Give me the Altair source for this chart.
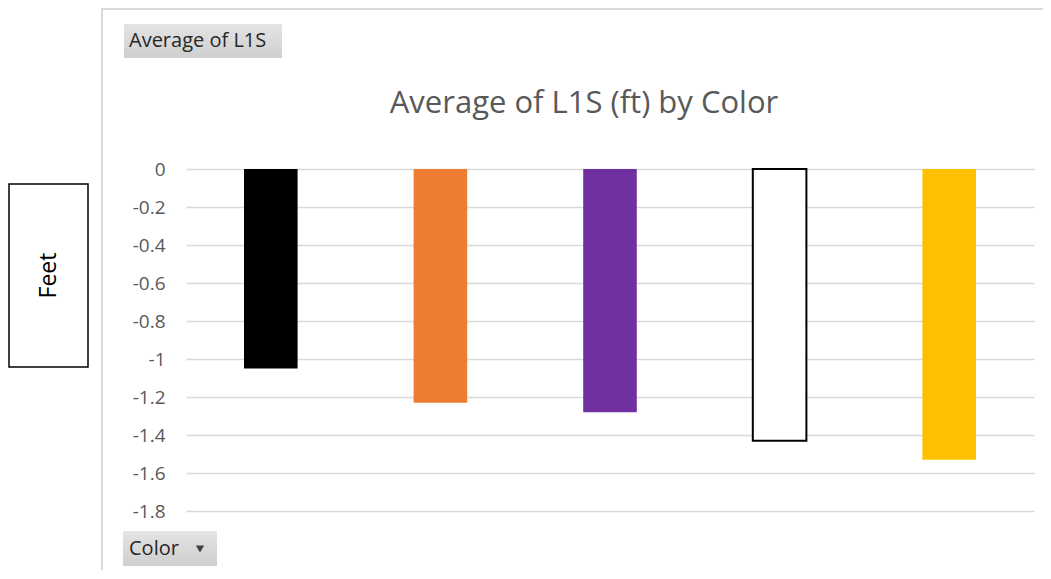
import altair as alt
import pandas as pd

# ---- data ----
categories = ["Black", "Orange", "Purple", "White", "Yellow"]
values = [-1.05, -1.23, -1.28, -1.43, -1.53]
fill_colors = ["#000000", "#ED7D31", "#7030A0", "#FFFFFF", "#FFC000"]
tick_values = [0, -0.2, -0.4, -0.6, -0.8, -1.0, -1.2, -1.4, -1.6, -1.8]

title_text = "Average of L1S (ft) by Color"
field_button_text = "Average of L1S"
axis_button_text = "Color"
y_title_text = "Feet"

FONT = "Open Sans"
W, H = 848, 342

df = pd.DataFrame({"Color": categories, "Value": values})
one = pd.DataFrame({"a": [0]})

bars = alt.Chart(df).mark_bar(strokeJoin="miter").encode(
    x=alt.X("Color:N", sort=categories,
            scale=alt.Scale(paddingInner=0.684, paddingOuter=0.342),
            axis=None),
    y=alt.Y("Value:Q",
            scale=alt.Scale(domain=[-1.8, 0], nice=False, zero=False),
            axis=alt.Axis(values=tick_values, title=None, domain=False, ticks=False,
                          labelExpr="datum.value == 0 ? '0' : '-' + format(abs(datum.value), '~g')",
                          labelFont=FONT, labelFontSize=19, labelColor="#595959",
                          labelPadding=21, grid=True, gridColor="#D9D9D9",
                          gridWidth=1.3)),
    color=alt.Color("Color:N", scale=alt.Scale(domain=categories, range=fill_colors), legend=None),
    stroke=alt.condition("datum.Color == 'White'", alt.value("#000000"), alt.value(None)),
    strokeWidth=alt.condition("datum.Color == 'White'", alt.value(2), alt.value(0)),
)

# chart-area border (left and top)
border_left = alt.Chart(one).mark_rule(color="#D9D9D9", strokeWidth=2).encode(
    x=alt.value(-84), y=alt.value(-161), y2=alt.value(H + 60))
border_top = alt.Chart(one).mark_rule(color="#D9D9D9", strokeWidth=2).encode(
    x=alt.value(-84), x2=alt.value(W + 20), y=alt.value(-160))

title = alt.Chart(one).mark_text(font=FONT, fontSize=31, color="#595959",
                                 align="center", baseline="middle").encode(
    x=alt.value(398), y=alt.value(-65), text=alt.value(title_text))

grad = alt.Gradient(gradient="linear", x1=0, y1=0, x2=0, y2=1,
                    stops=[alt.GradientStop(color="#E4E4E4", offset=0),
                           alt.GradientStop(color="#CFCFCF", offset=1)])

btn1 = alt.Chart(one).mark_rect(color=grad).encode(
    x=alt.value(-62), x2=alt.value(96), y=alt.value(-145), y2=alt.value(-111))
btn1_txt = alt.Chart(one).mark_text(font=FONT, fontSize=20, color="#262626",
                                    align="left", baseline="middle").encode(
    x=alt.value(-57), y=alt.value(-128), text=alt.value(field_button_text))

btn2 = alt.Chart(one).mark_rect(color=grad).encode(
    x=alt.value(-63), x2=alt.value(31), y=alt.value(362), y2=alt.value(397))
btn2_txt = alt.Chart(one).mark_text(font=FONT, fontSize=20, color="#262626",
                                    align="left", baseline="middle").encode(
    x=alt.value(-57), y=alt.value(380), text=alt.value(axis_button_text))
btn2_arrow = alt.Chart(one).mark_point(shape="triangle-down", filled=True,
                                       color="#404040", size=70, opacity=1).encode(
    x=alt.value(14), y=alt.value(380))

feet_box = alt.Chart(one).mark_rect(fill="#FFFFFF", stroke="#000000", strokeWidth=1.5).encode(
    x=alt.value(-177), x2=alt.value(-98), y=alt.value(15), y2=alt.value(198))
feet_txt = alt.Chart(one).mark_text(font=FONT, fontSize=23, color="#000000", angle=270,
                                    align="center", baseline="middle").encode(
    x=alt.value(-137.5), y=alt.value(106.5), text=alt.value(y_title_text))

chart = alt.layer(
    border_left, border_top, bars, title, btn1, btn1_txt, btn2, btn2_txt, btn2_arrow,
    feet_box, feet_txt
).properties(
    width=W, height=H,
    background="#FFFFFF",
    autosize=alt.AutoSizeParams(type="none"),
    padding={"left": 178, "top": 161, "right": 9, "bottom": 59},
).configure_view(stroke=None)

chart.save("out.html", embed_options={"renderer": "svg", "actions": False})
